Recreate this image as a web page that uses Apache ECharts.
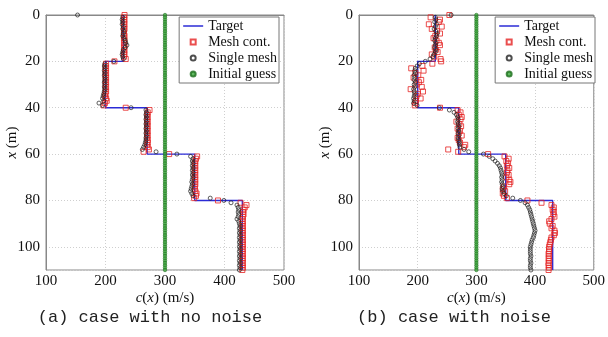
<!DOCTYPE html>
<html>
<head>
<meta charset="utf-8">
<script src="https://cdn.jsdelivr.net/npm/echarts@6/dist/echarts.min.js"></script>
<style>
  html, body { margin: 0; padding: 0; background: #fff; }
  #chart { width: 608px; height: 337px; }
</style>
</head>
<body>
<div id="chart"></div>
<script>
// depth of mesh point i is i * depthStep (m)
const depthStep = 1
const initialGuess = 300

// target profile (step function)
const targetDepth = [0, 20, 20, 40, 40, 60, 60, 80, 80, 110]
const targetSpeed = [230, 230, 200, 200, 270, 270, 350, 350, 430, 430]

// (a) no noise
const meshContA = [
  232, 231, 232, 231, 232, 231, 232, 231, 231, 232, 231, 232, 231, 232, 231, 232, 231, 232, 231, 234,
  215, 201, 200, 201, 200, 201, 200, 201, 200, 201, 200, 201, 200, 201, 200, 199, 201, 202, 199, 197,
  234, 274, 271, 270, 271, 270, 271, 270, 271, 270, 271, 270, 271, 270, 271, 271, 270, 271, 273, 264,
  307, 354, 352, 351, 350, 351, 350, 351, 350, 351, 350, 351, 350, 351, 350, 350, 351, 353, 352, 349,
  389, 427, 437, 434, 432, 431, 432, 431, 430, 431, 430, 431, 430, 431, 430, 431, 430, 431, 430, 431,
  430, 431, 430, 431, 430, 431, 430, 431, 430, 431, 430
]
const singleA = [
  153, 229, 228, 229, 228, 230, 229, 231, 230, 229, 231, 233, 234, 236, 233, 230, 229, 228, 229, 230,
  214, 199, 198, 199, 198, 199, 198, 199, 199, 198, 199, 198, 199, 198, 197, 196, 195, 197, 189, 195,
  243, 268, 269, 268, 269, 268, 269, 268, 269, 268, 269, 268, 269, 268, 268, 267, 266, 264, 262, 285,
  320, 343, 347, 346, 347, 346, 347, 346, 347, 346, 347, 346, 345, 346, 345, 344, 343, 345, 347, 376,
  399, 411, 421, 423, 424, 423, 424, 423, 421, 424, 425, 426, 425, 426, 425, 426, 425, 426, 425, 426,
  425, 426, 425, 426, 425, 426, 425, 426, 425, 426, 425
]

// (b) with noise
const meshContB = [
  254, 222, 238, 236, 219, 241, 224, 233, 238, 230, 227, 232, 236, 238, 229, 231, 234, 224, 228, 239,
  240, 225, 208, 189, 210, 196, 201, 193, 206, 202, 198, 207, 188, 209, 200, 198, 205, 197, 196, 195,
  238, 268, 273, 270, 275, 273, 266, 271, 274, 268, 272, 270, 275, 268, 270, 272, 281, 279, 252, 269,
  320, 348, 355, 351, 354, 352, 356, 353, 352, 355, 351, 356, 358, 356, 347, 345, 349, 345, 347, 352,
  387, 411, 428, 432, 430, 432, 431, 433, 428, 424, 425, 430, 428, 433, 434, 432, 428, 427, 426, 425,
  424, 424, 424, 423, 424, 423, 424, 423, 423, 424, 423
]
const singleB = [
  257, 230, 231, 229, 232, 230, 228, 231, 233, 232, 230, 229, 231, 230, 229, 231, 230, 228, 226, 221,
  213, 203, 199, 196, 195, 196, 194, 195, 194, 196, 194, 195, 193, 194, 195, 194, 193, 194, 193, 199,
  237, 254, 262, 266, 268, 269, 268, 269, 270, 269, 270, 269, 270, 269, 270, 271, 271, 272, 279, 287,
  312, 322, 328, 332, 336, 339, 341, 342, 343, 344, 343, 344, 343, 344, 345, 344, 345, 347, 351, 362,
  375, 383, 387, 389, 391, 392, 393, 394, 395, 396, 397, 398, 399, 400, 399, 398, 397, 395, 394, 393,
  392, 392, 392, 392, 393, 392, 392, 393, 392, 392, 393
]

const xTicks = [100, 200, 300, 400, 500]
const captions = ['(a) case with no noise', '(b) case with noise']

const serif = 'Liberation Serif'
const chart = echarts.init(document.getElementById('chart'))

const grids = [
  { left: 46, right: 324, top: 15, bottom: 67 },
  { left: 359, right: 10, top: 15, bottom: 67 }
]

const nameStyle = {
  fontFamily: serif, fontSize: 15, color: '#111',
  rich: { i: { fontFamily: serif, fontStyle: 'italic', fontSize: 15, color: '#111' } }
}

const xAxes = grids.map((g, i) => ({
  type: 'value',
  gridIndex: i,
  min: xTicks[0],
  max: xTicks[xTicks.length - 1],
  interval: 100,
  name: '{i|c}({i|x}) (m/s)',
  nameLocation: 'middle',
  nameGap: 21,
  nameMoveOverlap: false,
  nameTextStyle: nameStyle,
  axisLine: { show: true, lineStyle: { color: '#888' } },
  axisTick: { show: false },
  axisLabel: { fontFamily: serif, fontSize: 15, color: '#111', margin: 4 },
  splitLine: { show: true, lineStyle: { color: '#cfcfcf', type: [1, 2] } }
}))

const yAxes = grids.map((g, i) => ({
  type: 'value',
  gridIndex: i,
  inverse: true,
  min: 0,
  max: 110,
  interval: 20,
  name: '{i|x} (m)',
  nameLocation: 'middle',
  nameGap: 26,
  nameRotate: 90,
  nameMoveOverlap: false,
  nameTextStyle: nameStyle,
  axisLine: { show: true, lineStyle: { color: '#888' } },
  axisTick: { show: false },
  axisLabel: { fontFamily: serif, fontSize: 15, color: '#111', margin: 6, showMaxLabel: false },
  splitLine: { show: true, lineStyle: { color: '#cfcfcf', type: [1, 2] } }
}))

const toPoints = arr => arr.map((c, k) => [c, k * depthStep])

const panels = [
  { mesh: meshContA, single: singleA },
  { mesh: meshContB, single: singleB }
]

const series = []
panels.forEach((p, i) => {
  series.push({
    name: 'Target', type: 'line', xAxisIndex: i, yAxisIndex: i,
    data: targetSpeed.map((c, k) => [c, targetDepth[k]]),
    symbol: 'none', z: 2,
    lineStyle: { color: '#2b2bd6', width: 1.4 },
    itemStyle: { color: '#2b2bd6' }
  })
  series.push({
    name: 'Mesh cont.', type: 'scatter', xAxisIndex: i, yAxisIndex: i,
    data: toPoints(p.mesh), symbol: 'rect', symbolSize: 5, z: 3,
    itemStyle: { color: 'rgba(255,255,255,0)', borderColor: '#e52222', borderWidth: 1 }
  })
  series.push({
    name: 'Single mesh', type: 'scatter', xAxisIndex: i, yAxisIndex: i,
    data: toPoints(p.single), symbol: 'circle', symbolSize: 4, z: 4,
    itemStyle: { color: 'rgba(255,255,255,0)', borderColor: '#222', borderWidth: 0.9 }
  })
  series.push({
    name: 'Initial guess', type: 'scatter', xAxisIndex: i, yAxisIndex: i,
    data: p.mesh.map((c, k) => [initialGuess, k * depthStep]),
    symbol: 'circle', symbolSize: 3.5, z: 5,
    itemStyle: { color: '#3aa83a', borderColor: '#1d6e1d', borderWidth: 0.7 }
  })
})

const squareIcon = 'path://M0,0L10,0L10,10L0,10Z'
const lineIcon = 'path://M0,0L40,0L40,3L0,3Z'
const legendData = [
  { name: 'Target', icon: lineIcon, itemStyle: { color: '#2b2bd6', borderWidth: 0 } },
  { name: 'Mesh cont.', icon: squareIcon },
  { name: 'Single mesh', icon: 'circle' },
  { name: 'Initial guess', icon: 'circle' }
]
const legends = [{ right: 329, top: 17 }, { right: 13, top: 17 }].map(pos => ({
  ...pos,
  orient: 'vertical',
  data: legendData,
  itemWidth: 20,
  itemHeight: 5,
  itemGap: 2,
  padding: [2, 2, 2, 4],
  backgroundColor: '#fff',
  borderColor: '#777',
  borderWidth: 1,
  selectedMode: false,
  textStyle: { fontFamily: serif, fontSize: 14, color: '#111', lineHeight: 14 }
}))

chart.setOption({
  animation: false,
  grid: grids.map(g => ({ ...g, show: true, borderColor: '#888', borderWidth: 1, backgroundColor: '#fff' })),
  xAxis: xAxes,
  yAxis: yAxes,
  legend: legends,
  series,
  graphic: captions.map((t, i) => ({
    type: 'text',
    x: [150, 454][i],
    y: 317,
    style: {
      text: t,
      font: '17px "Liberation Mono"',
      fill: '#222',
      align: 'center',
      verticalAlign: 'middle'
    }
  }))
})
</script>
</body>
</html>
